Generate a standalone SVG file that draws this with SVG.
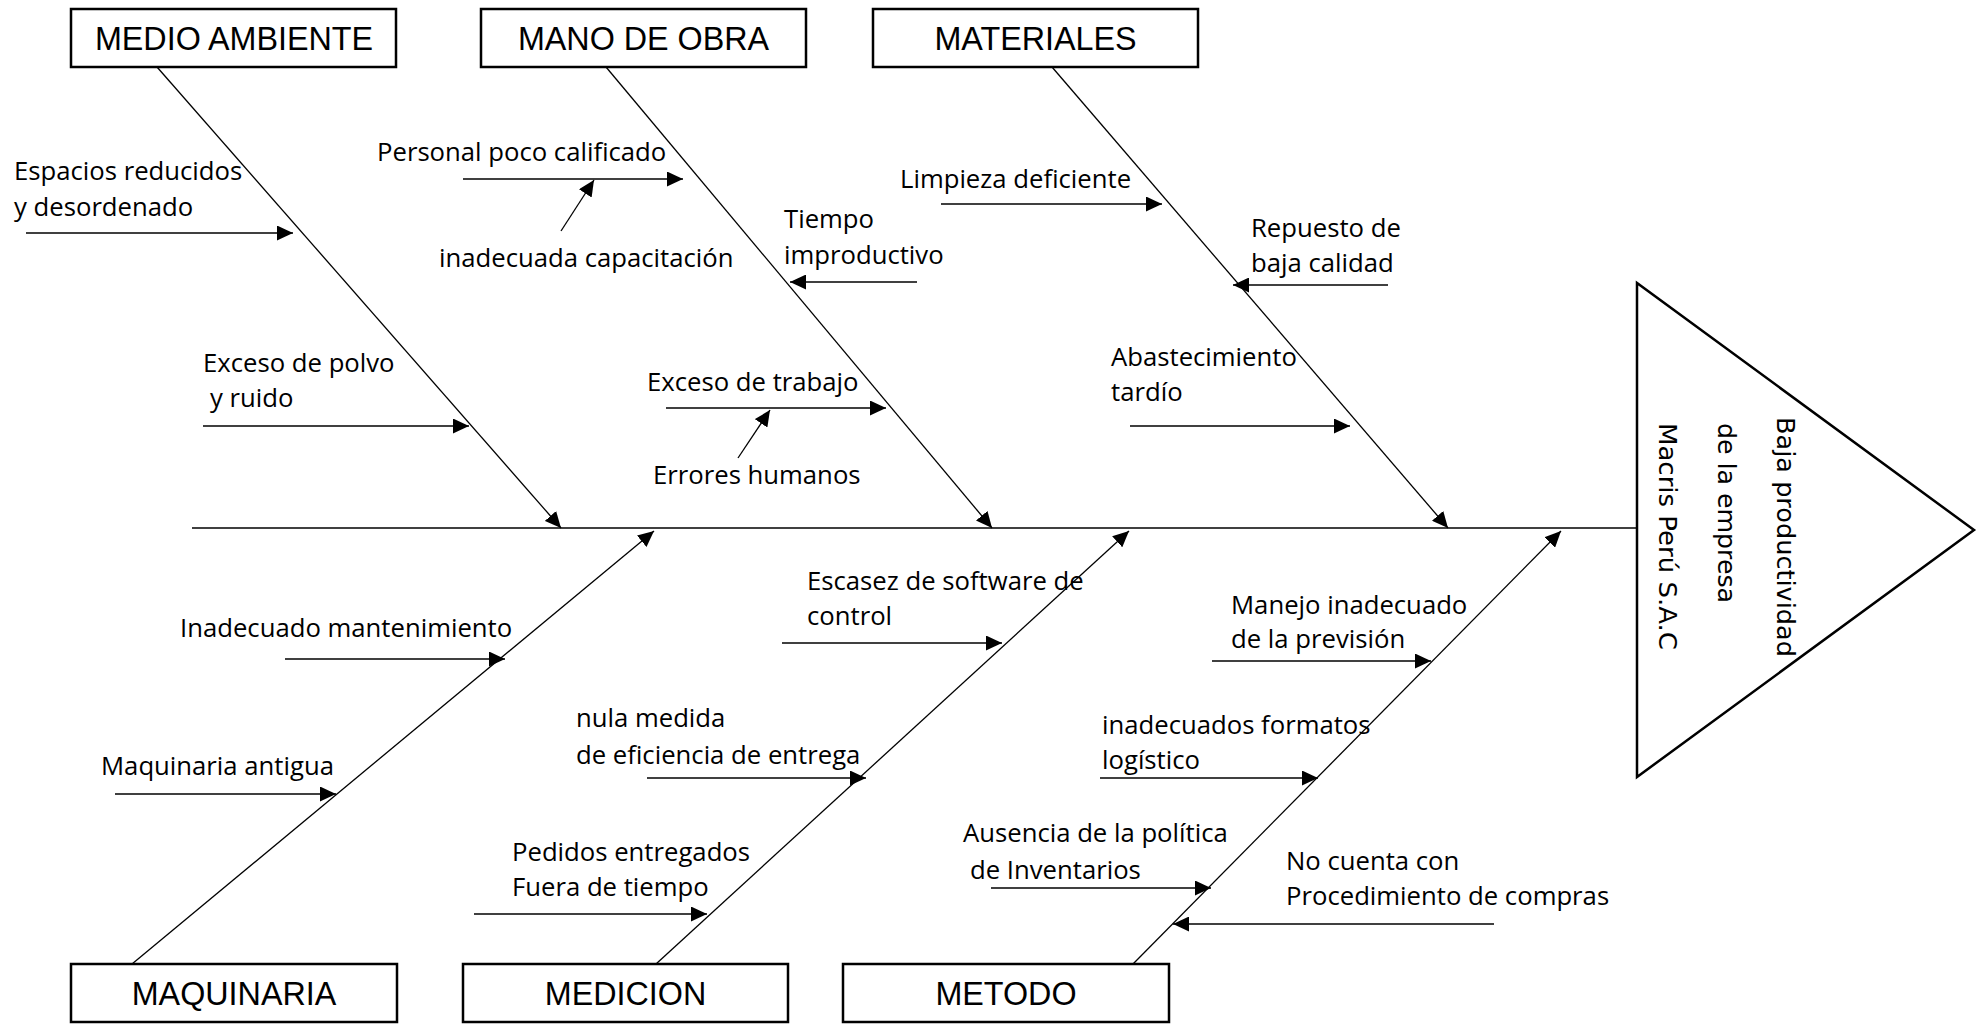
<svg xmlns="http://www.w3.org/2000/svg" width="1977" height="1024" viewBox="0 0 1977 1024">
<style>
.bg{fill:#fff}
.box{fill:#fff;stroke:#000;stroke-width:2.5}
.cat{font-family:"Liberation Sans",Arial,sans-serif;font-size:32.3px;text-anchor:middle;fill:#000}
.lbl{font-family:"Open Sans","Liberation Sans",sans-serif;font-size:25.7px;fill:#000}
.head{font-family:"DejaVu Sans","Liberation Sans",sans-serif;font-size:25.5px;fill:#000}
.bone{stroke:#000;stroke-width:1.3;fill:none}
.sub{stroke:#000;stroke-width:1.6;fill:none}
.tri{fill:#fff;stroke:#000;stroke-width:2.5}
</style>
<defs>
<marker id="ah" markerUnits="userSpaceOnUse" markerWidth="16" markerHeight="15" refX="16" refY="7.5" orient="auto">
<path d="M0,0 L16,7.5 L0,15 z" fill="#000"/>
</marker>
</defs>
<rect class="bg" x="0" y="0" width="1977" height="1024"/>

<g id="connectors">
<line class="bone" x1="192" y1="528" x2="1637" y2="528"/>
<line class="bone" x1="157" y1="67" x2="561" y2="528" marker-end="url(#ah)"/>
<line class="bone" x1="606" y1="67" x2="992" y2="528" marker-end="url(#ah)"/>
<line class="bone" x1="1052" y1="67" x2="1448" y2="528" marker-end="url(#ah)"/>
<line class="bone" x1="132" y1="964" x2="654" y2="531" marker-end="url(#ah)"/>
<line class="bone" x1="656" y1="964" x2="1129" y2="531" marker-end="url(#ah)"/>
<line class="bone" x1="1133" y1="964" x2="1561" y2="531" marker-end="url(#ah)"/>

<line class="sub" x1="26" y1="233" x2="293" y2="233" marker-end="url(#ah)"/>
<line class="sub" x1="203" y1="426" x2="469" y2="426" marker-end="url(#ah)"/>
<line class="sub" x1="463" y1="179" x2="683" y2="179" marker-end="url(#ah)"/>
<line class="bone" x1="561" y1="231" x2="594" y2="180" marker-end="url(#ah)"/>
<line class="sub" x1="917" y1="282" x2="790" y2="282" marker-end="url(#ah)"/>
<line class="sub" x1="666" y1="408" x2="886" y2="408" marker-end="url(#ah)"/>
<line class="bone" x1="738" y1="458" x2="770" y2="410" marker-end="url(#ah)"/>
<line class="sub" x1="941" y1="204" x2="1162" y2="204" marker-end="url(#ah)"/>
<line class="sub" x1="1388" y1="285" x2="1233" y2="285" marker-end="url(#ah)"/>
<line class="sub" x1="1130" y1="426" x2="1350" y2="426" marker-end="url(#ah)"/>

<line class="sub" x1="285" y1="659" x2="505" y2="659" marker-end="url(#ah)"/>
<line class="sub" x1="115" y1="794" x2="336" y2="794" marker-end="url(#ah)"/>
<line class="sub" x1="782" y1="643" x2="1002" y2="643" marker-end="url(#ah)"/>
<line class="sub" x1="647" y1="778" x2="866" y2="778" marker-end="url(#ah)"/>
<line class="sub" x1="474" y1="914" x2="707" y2="914" marker-end="url(#ah)"/>
<line class="sub" x1="1212" y1="661" x2="1431" y2="661" marker-end="url(#ah)"/>
<line class="sub" x1="1100" y1="778" x2="1318" y2="778" marker-end="url(#ah)"/>
<line class="sub" x1="991" y1="888" x2="1211" y2="888" marker-end="url(#ah)"/>
<line class="sub" x1="1494" y1="924" x2="1173" y2="924" marker-end="url(#ah)"/>
</g>

<g id="medio-ambiente">
<rect class="box" x="71" y="9" width="325" height="58"/>
<text class="cat" x="234" y="50">MEDIO AMBIENTE</text>
</g>
<g id="mano-de-obra">
<rect class="box" x="481" y="9" width="325" height="58"/>
<text class="cat" x="643.5" y="50">MANO DE OBRA</text>
</g>
<g id="materiales">
<rect class="box" x="873" y="9" width="325" height="58"/>
<text class="cat" x="1035.5" y="50">MATERIALES</text>
</g>
<g id="maquinaria">
<rect class="box" x="71" y="964" width="326" height="58"/>
<text class="cat" x="234" y="1005">MAQUINARIA</text>
</g>
<g id="medicion">
<rect class="box" x="463" y="964" width="325" height="58"/>
<text class="cat" x="625.5" y="1005">MEDICION</text>
</g>
<g id="metodo">
<rect class="box" x="843" y="964" width="326" height="58"/>
<text class="cat" x="1006" y="1005">METODO</text>
</g>

<g id="efecto">
<polygon class="tri" points="1637,283 1637,777 1974,530"/>
<text class="head" transform="translate(1777,417) rotate(90)" textLength="240" lengthAdjust="spacingAndGlyphs">Baja productividad</text>
<text class="head" transform="translate(1718,423) rotate(90)" textLength="180" lengthAdjust="spacingAndGlyphs">de la empresa</text>
<text class="head" transform="translate(1659,423) rotate(90)" textLength="227" lengthAdjust="spacingAndGlyphs">Macris Perú S.A.C</text>
</g>

<g id="causas-medio-ambiente">
<text class="lbl" x="14" y="180">Espacios reducidos</text>
<text class="lbl" x="14" y="216">y desordenado</text>
<text class="lbl" x="203" y="372">Exceso de polvo</text>
<text class="lbl" x="210" y="407">y ruido</text>
</g>
<g id="causas-mano-de-obra">
<text class="lbl" x="377" y="161">Personal poco calificado</text>
<text class="lbl" x="439" y="267">inadecuada capacitación</text>
<text class="lbl" x="784" y="228">Tiempo</text>
<text class="lbl" x="784" y="264">improductivo</text>
<text class="lbl" x="647" y="391">Exceso de trabajo</text>
<text class="lbl" x="653" y="484">Errores humanos</text>
</g>
<g id="causas-materiales">
<text class="lbl" x="900" y="188">Limpieza deficiente</text>
<text class="lbl" x="1251" y="237">Repuesto de</text>
<text class="lbl" x="1251" y="272">baja calidad</text>
<text class="lbl" x="1111" y="366">Abastecimiento</text>
<text class="lbl" x="1111" y="401">tardío</text>
</g>
<g id="causas-maquinaria">
<text class="lbl" x="180" y="637">Inadecuado mantenimiento</text>
<text class="lbl" x="101" y="775">Maquinaria antigua</text>
</g>
<g id="causas-medicion">
<text class="lbl" x="807" y="590">Escasez de software de</text>
<text class="lbl" x="807" y="625">control</text>
<text class="lbl" x="576" y="727">nula medida</text>
<text class="lbl" x="576" y="764">de eficiencia de entrega</text>
<text class="lbl" x="512" y="861">Pedidos entregados</text>
<text class="lbl" x="512" y="896">Fuera de tiempo</text>
</g>
<g id="causas-metodo">
<text class="lbl" x="1231" y="614">Manejo inadecuado</text>
<text class="lbl" x="1231" y="648">de la previsión</text>
<text class="lbl" x="1102" y="734">inadecuados formatos</text>
<text class="lbl" x="1102" y="769">logístico</text>
<text class="lbl" x="963" y="842">Ausencia de la política</text>
<text class="lbl" x="970" y="879">de Inventarios</text>
<text class="lbl" x="1286" y="870">No cuenta con</text>
<text class="lbl" x="1286" y="905">Procedimiento de compras</text>
</g>
</svg>
